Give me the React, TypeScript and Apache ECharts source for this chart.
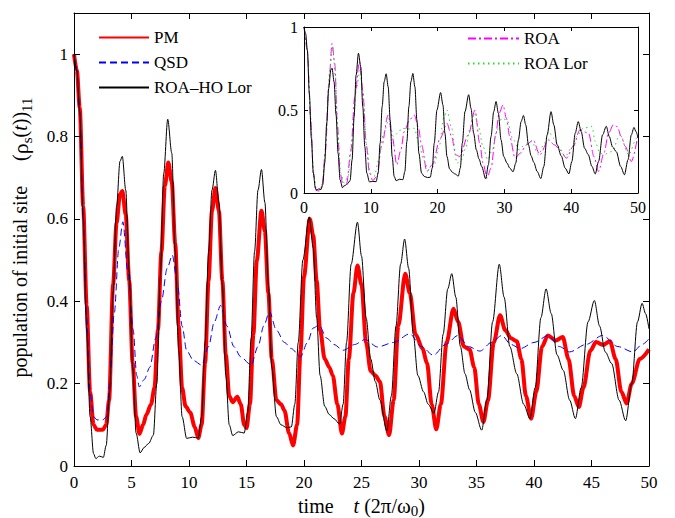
import React, { useEffect, useRef } from "react";
import * as echarts from "echarts";

// ---------- data ----------
const pmT = [0, 0.25, 0.5, 0.8, 1.1, 1.4, 1.7, 2.0, 2.5, 2.8, 3.05, 3.4, 3.7, 4.0, 4.2, 4.5, 4.8, 5.1, 5.4, 5.7, 6.0, 6.3, 6.7, 7.0, 7.3, 7.6, 7.9, 8.2, 8.5, 8.8, 9.1, 9.4, 9.7, 10.1, 10.5, 10.8, 11.1, 11.4, 11.7, 12.0, 12.3, 12.6, 12.9, 13.2, 13.5, 13.8, 14.2, 14.5, 14.8, 15.0, 15.3, 15.6, 15.9, 16.3, 16.6, 16.9, 17.2, 17.6, 18.0, 18.3, 18.7, 19.05, 19.4, 19.7, 20.0, 20.5, 20.8, 21.1, 21.4, 21.8, 22.2, 22.5, 22.9, 23.3, 23.6, 23.9, 24.3, 24.65, 25.0, 25.4, 25.8, 26.2, 26.6, 27.0, 27.4, 27.8, 28.2, 28.8, 29.2, 29.7, 30.3, 30.7, 31.1, 31.5, 31.9, 32.4, 33.0, 33.4, 33.9, 34.4, 34.8, 35.2, 35.6, 36.0, 36.5, 37.05, 37.5, 38.0, 38.5, 38.9, 39.3, 39.75, 40.2, 40.7, 41.2, 41.9, 42.5, 43.0, 43.5, 43.9, 44.3, 44.9, 45.4, 46.0, 46.6, 47.1, 47.6, 48.05, 48.5, 49.2, 50];
const pmV = [1.0, 0.96, 0.87, 0.63, 0.39, 0.18, 0.1, 0.088, 0.088, 0.1, 0.16, 0.44, 0.59, 0.66, 0.668, 0.61, 0.45, 0.25, 0.12, 0.078, 0.1, 0.125, 0.15, 0.19, 0.33, 0.52, 0.68, 0.737, 0.69, 0.54, 0.34, 0.19, 0.145, 0.13, 0.095, 0.068, 0.1, 0.25, 0.45, 0.62, 0.675, 0.62, 0.45, 0.27, 0.17, 0.155, 0.168, 0.15, 0.1, 0.092, 0.15, 0.32, 0.5, 0.62, 0.57, 0.42, 0.26, 0.16, 0.15, 0.135, 0.08, 0.05, 0.1, 0.28, 0.46, 0.6, 0.56, 0.45, 0.33, 0.26, 0.24, 0.22, 0.15, 0.079, 0.12, 0.26, 0.42, 0.487, 0.44, 0.3, 0.23, 0.22, 0.205, 0.12, 0.075, 0.16, 0.34, 0.467, 0.42, 0.32, 0.285, 0.25, 0.15, 0.089, 0.15, 0.3, 0.382, 0.35, 0.29, 0.283, 0.24, 0.15, 0.107, 0.16, 0.3, 0.366, 0.33, 0.31, 0.303, 0.26, 0.17, 0.115, 0.18, 0.29, 0.317, 0.305, 0.313, 0.26, 0.17, 0.143, 0.19, 0.28, 0.301, 0.294, 0.303, 0.26, 0.18, 0.152, 0.2, 0.26, 0.283];

const qsdT = [0, 0.25, 0.5, 0.8, 1.1, 1.4, 1.7, 2.0, 2.5, 2.85, 3.1, 3.5, 3.9, 4.25, 4.7, 5.15, 5.45, 5.68, 6.1, 6.6, 7.1, 7.6, 8.1, 8.55, 9.0, 9.4, 9.8, 10.4, 11.1, 11.7, 12.2, 12.75, 13.3, 13.9, 14.5, 15.4, 16.0, 16.5, 17.0, 17.6, 18.3, 18.9, 19.7, 20.3, 20.8, 21.3, 22.0, 22.6, 23.4, 24.4, 25.3, 26.4, 27.8, 29.2, 30.2, 31.25, 32.3, 33.4, 34.3, 35.3, 36.3, 37.2, 38.0, 38.8, 40.0, 41.25, 42.2, 43.1, 44.5, 45.97, 47.3, 48.6, 49.4, 50];
const qsdV = [1.0, 0.96, 0.86, 0.61, 0.36, 0.18, 0.12, 0.112, 0.112, 0.12, 0.2, 0.37, 0.53, 0.593, 0.466, 0.33, 0.22, 0.192, 0.21, 0.24, 0.31, 0.4, 0.48, 0.512, 0.44, 0.34, 0.28, 0.256, 0.245, 0.29, 0.35, 0.39, 0.34, 0.29, 0.265, 0.245, 0.29, 0.34, 0.375, 0.33, 0.3, 0.285, 0.265, 0.3, 0.335, 0.342, 0.31, 0.295, 0.281, 0.295, 0.307, 0.289, 0.3, 0.321, 0.29, 0.269, 0.295, 0.317, 0.29, 0.279, 0.3, 0.317, 0.295, 0.285, 0.3, 0.317, 0.29, 0.277, 0.295, 0.317, 0.29, 0.277, 0.295, 0.309];

const loreT = [0, 0.25, 0.5, 0.8, 1.1, 1.4, 1.7, 1.9, 2.2, 2.55, 2.8, 3.1, 3.4, 3.7, 4.0, 4.2, 4.5, 4.8, 5.1, 5.4, 5.75, 6.1, 6.5, 6.9, 7.2, 7.5, 7.8, 8.15, 8.5, 8.8, 9.1, 9.4, 9.8, 10.3, 10.8, 11.1, 11.4, 11.7, 12.0, 12.3, 12.6, 12.9, 13.2, 13.5, 13.8, 14.3, 14.8, 15.1, 15.4, 15.7, 16.0, 16.3, 16.6, 16.9, 17.2, 17.6, 18.0, 18.5, 18.9, 19.2, 19.5, 19.9, 20.45, 20.8, 21.1, 21.4, 21.8, 22.2, 22.6, 23.1, 23.4, 23.7, 24.1, 24.65, 25.0, 25.4, 25.8, 26.2, 26.6, 27.2, 27.6, 28.0, 28.4, 28.75, 29.1, 29.5, 29.9, 30.4, 30.8, 31.3, 31.7, 32.1, 32.5, 32.85, 33.2, 33.6, 34.0, 34.4, 34.9, 35.45, 35.9, 36.4, 36.98, 37.4, 37.9, 38.5, 39.1, 39.65, 40.1, 40.6, 41.05, 41.5, 42.0, 42.55, 43.1, 43.6, 44.1, 44.7, 45.25, 45.7, 46.2, 46.75, 47.4, 47.97, 48.5, 49.0, 49.4, 49.7, 50];
const loreV = [1.0, 0.96, 0.86, 0.6, 0.33, 0.12, 0.03, 0.018, 0.024, 0.021, 0.05, 0.18, 0.42, 0.63, 0.74, 0.752, 0.67, 0.47, 0.24, 0.08, 0.032, 0.045, 0.055, 0.075, 0.2, 0.46, 0.71, 0.842, 0.76, 0.52, 0.28, 0.12, 0.067, 0.07, 0.068, 0.12, 0.3, 0.52, 0.67, 0.718, 0.64, 0.44, 0.22, 0.1, 0.074, 0.083, 0.08, 0.13, 0.31, 0.52, 0.67, 0.72, 0.64, 0.44, 0.24, 0.12, 0.1, 0.093, 0.095, 0.15, 0.3, 0.5, 0.605, 0.53, 0.36, 0.22, 0.145, 0.125, 0.115, 0.102, 0.15, 0.3, 0.49, 0.592, 0.51, 0.36, 0.26, 0.205, 0.16, 0.085, 0.17, 0.34, 0.49, 0.551, 0.48, 0.32, 0.22, 0.18, 0.15, 0.128, 0.18, 0.32, 0.43, 0.467, 0.41, 0.29, 0.224, 0.185, 0.13, 0.087, 0.16, 0.35, 0.49, 0.41, 0.29, 0.224, 0.15, 0.115, 0.19, 0.36, 0.43, 0.37, 0.27, 0.232, 0.16, 0.115, 0.19, 0.35, 0.402, 0.34, 0.277, 0.249, 0.16, 0.11, 0.2, 0.35, 0.395, 0.37, 0.333];

const roaT = [0, 0.5, 1.0, 1.4, 1.8, 2.3, 2.7, 3.2, 3.7, 4.2, 4.6, 5.0, 5.4, 5.9, 6.4, 7.0, 7.6, 8.3, 8.8, 9.3, 9.8, 10.3, 10.9, 11.6, 12.6, 13.2, 13.9, 14.5, 15.0, 15.8, 16.5, 17.1, 17.6, 18.4, 19.2, 20.4, 21.4, 22.1, 22.7, 23.3, 24.6, 25.6, 26.3, 26.8, 27.4, 28.0, 28.7, 29.2, 29.8, 30.3, 30.8, 31.6, 32.4, 33.3, 34.3, 35.3, 36.6, 37.5, 38.3, 39.3, 40.3, 41.3, 42.6, 43.4, 44.1, 44.9, 45.6, 46.3, 46.9, 47.5, 48.1, 49.0, 50];
const roaV = [1.0, 0.86, 0.45, 0.12, 0.015, 0.012, 0.04, 0.25, 0.65, 0.9, 0.78, 0.42, 0.12, 0.04, 0.06, 0.25, 0.58, 0.79, 0.62, 0.3, 0.12, 0.075, 0.1, 0.28, 0.47, 0.34, 0.17, 0.26, 0.37, 0.44, 0.47, 0.4, 0.29, 0.13, 0.17, 0.33, 0.42, 0.34, 0.23, 0.22, 0.35, 0.5, 0.3, 0.18, 0.09, 0.15, 0.35, 0.48, 0.53, 0.45, 0.34, 0.21, 0.24, 0.29, 0.32, 0.23, 0.32, 0.29, 0.26, 0.21, 0.28, 0.38, 0.36, 0.22, 0.13, 0.24, 0.36, 0.41, 0.4, 0.34, 0.28, 0.19, 0.35];

const roaLorT = [0, 0.5, 1.0, 1.4, 1.8, 2.4, 2.8, 3.3, 3.8, 4.3, 4.7, 5.1, 5.5, 6.0, 6.6, 7.2, 7.8, 8.4, 8.9, 9.4, 9.9, 10.5, 11.2, 11.9, 12.7, 13.4, 14.0, 14.7, 15.5, 16.5, 17.2, 17.9, 18.6, 19.4, 20.2, 20.9, 21.4, 22.1, 22.9, 23.6, 24.2, 24.9, 25.5, 26.1, 26.8, 27.5, 28.2, 28.9, 29.6, 30.4, 31.2, 32.2, 33.0, 34.1, 35.1, 36.0, 36.6, 37.4, 38.1, 39.1, 40.0, 40.8, 41.8, 43.1, 43.6, 44.2, 44.8, 46.1, 47.3, 48.6, 49.8, 50];
const roaLorV = [1.0, 0.86, 0.45, 0.13, 0.03, 0.025, 0.06, 0.32, 0.72, 0.88, 0.7, 0.35, 0.12, 0.06, 0.1, 0.32, 0.62, 0.74, 0.55, 0.28, 0.12, 0.1, 0.2, 0.36, 0.44, 0.34, 0.36, 0.39, 0.385, 0.39, 0.3, 0.2, 0.14, 0.16, 0.27, 0.45, 0.5, 0.39, 0.18, 0.2, 0.27, 0.4, 0.48, 0.4, 0.28, 0.2, 0.26, 0.38, 0.45, 0.44, 0.33, 0.26, 0.29, 0.31, 0.23, 0.3, 0.37, 0.33, 0.28, 0.22, 0.27, 0.34, 0.39, 0.4, 0.31, 0.25, 0.23, 0.25, 0.35, 0.23, 0.33, 0.34];

const seriesNames = ["PM", "QSD", "ROA\u2013HO Lor", "ROA", "ROA Lor"];
const mainXTicks = { min: 0, max: 50, interval: 5 };
const mainYTicks = { min: 0, max: 1.1, interval: 0.2 };
const insetXTicks = { min: 0, max: 50, interval: 10 };
const insetYTicks = { min: 0, max: 1, interval: 0.5 };

const zip = (t: number[], v: number[]) => t.map((x, i) => [x, v[i]]);

const FONT = "'Liberation Serif', 'Times New Roman', serif";

export default function App() {
  const ref = useRef<HTMLDivElement>(null);
  useEffect(() => {
    if (!ref.current) return;
    const chart = echarts.init(ref.current, undefined, { renderer: "svg" });

    const axisCommon = {
      axisLine: { show: true, onZero: false, lineStyle: { color: "#000", width: 1 } },
      splitLine: { show: false },
    };
    const mkX = (grid: number, tk: any, pos: string, labels: boolean, fs: number, margin: number, tickLen: number, z: number, extra: any = {}) => ({
      type: "value",
      gridIndex: grid,
      position: pos,
      min: tk.min,
      max: tk.max,
      interval: tk.interval,
      z,
      ...axisCommon,
      axisTick: { show: true, inside: true, length: tickLen, lineStyle: { color: "#000" } },
      axisLabel: { show: labels, color: "#000", fontFamily: FONT, fontSize: fs, margin },
      ...extra,
    });
    const mkY = (grid: number, tk: any, pos: string, labels: boolean, fs: number, margin: number, tickLen: number, z: number, extra: any = {}) => ({
      type: "value",
      gridIndex: grid,
      position: pos,
      min: tk.min,
      max: tk.max,
      interval: tk.interval,
      z,
      ...axisCommon,
      axisTick: { show: true, inside: true, length: tickLen, lineStyle: { color: "#000" } },
      axisLabel: { show: labels, color: "#000", fontFamily: FONT, fontSize: fs, margin, showMaxLabel: tk.max === 1 ? true : false },
      ...extra,
    });

    const lineBase = {
      type: "line",
      symbol: "none",
      smooth: 0.3,
      smoothMonotone: "x",
      animation: false,
    };

    const richY = {
      a: { fontFamily: FONT, fontSize: 20, color: "#000", lineHeight: 28 },
      g: { fontFamily: FONT, fontSize: 22, color: "#000", lineHeight: 28 },
      i: { fontFamily: FONT, fontSize: 20, color: "#000", fontStyle: "italic", lineHeight: 28 },
      s: { fontFamily: FONT, fontSize: 15, color: "#000", lineHeight: 16, verticalAlign: "bottom" },
    };
    const richX = {
      a: { fontFamily: FONT, fontSize: 20, color: "#000", lineHeight: 25 },
      g: { fontFamily: FONT, fontSize: 21, color: "#000", lineHeight: 25 },
      i: { fontFamily: FONT, fontSize: 20, color: "#000", fontStyle: "italic", lineHeight: 25 },
      s: { fontFamily: FONT, fontSize: 15, color: "#000", lineHeight: 15, verticalAlign: "bottom" },
    };

    chart.setOption({
      animation: false,
      backgroundColor: "#fff",
      textStyle: { fontFamily: FONT },
      grid: [
        { left: 74, top: 13, right: 26, bottom: 52, show: false, z: 0, containLabel: false, outerBoundsMode: "none" },
        { left: 304, top: 27, width: 334, height: 166, show: true, backgroundColor: "#fff", borderWidth: 0, z: 5, containLabel: false, outerBoundsMode: "none" },
      ],
      xAxis: [
        mkX(0, mainXTicks, "bottom", true, 17, 8, 6, 3, {
          name: "{a|time    }{i|t}{a| (2}{g|\u03c0}{a|/}{g|\u03c9}{s|0}{a|)}",
          nameLocation: "middle",
          nameGap: 21,
          nameTextStyle: { color: "#000", fontFamily: FONT, fontSize: 20, rich: richX },
        }),
        mkX(0, mainXTicks, "top", false, 17, 7, 6, 3),
        mkX(1, insetXTicks, "bottom", true, 16, 6, 4, 8),
        mkX(1, insetXTicks, "top", false, 16, 6, 4, 8),
      ],
      yAxis: [
        mkY(0, mainYTicks, "left", true, 17, 6, 6, 3, {
          name: "{a|population of initial site     (}{g|\u03c1}{s|s}{a|(}{i|t}{a|))}{s|11}",
          nameLocation: "middle",
          nameRotate: 90,
          nameGap: 40,
          nameTextStyle: { color: "#000", fontFamily: FONT, fontSize: 20, rich: richY, padding: [0, 0, 0, 4] },
        }),
        mkY(0, mainYTicks, "right", false, 17, 6, 6, 3),
        mkY(1, insetYTicks, "left", true, 16, 6, 4, 8),
        mkY(1, insetYTicks, "right", false, 16, 6, 4, 8),
      ],
      legend: [
        {
          data: [seriesNames[0], seriesNames[1], seriesNames[2]],
          orient: "vertical",
          left: 98,
          top: 29,
          padding: 0,
          itemWidth: 50,
          itemHeight: 14,
          itemGap: 8,
          selectedMode: false,
          itemStyle: { opacity: 0 },
          textStyle: { fontFamily: FONT, fontSize: 17, color: "#000", lineHeight: 17 },
          z: 10,
        },
        {
          data: [seriesNames[3], seriesNames[4]],
          orient: "vertical",
          left: 467,
          top: 30,
          padding: 0,
          itemWidth: 51,
          itemHeight: 14,
          itemGap: 8,
          selectedMode: false,
          itemStyle: { opacity: 0 },
          textStyle: { fontFamily: FONT, fontSize: 17, color: "#000", lineHeight: 17 },
          z: 10,
        },
      ],
      series: [
        {
          ...lineBase,
          name: seriesNames[0],
          xAxisIndex: 0,
          yAxisIndex: 0,
          z: 2,
          data: zip(pmT, pmV),
          itemStyle: { color: "#ff0000" },
          lineStyle: { color: "#ff0000", width: 4 },
        },
        {
          ...lineBase,
          name: seriesNames[1],
          xAxisIndex: 0,
          yAxisIndex: 0,
          z: 2,
          data: zip(qsdT, qsdV),
          itemStyle: { color: "#0000ff" },
          lineStyle: { color: "#0000ff", width: 1, type: [7, 4] },
        },
        {
          ...lineBase,
          name: seriesNames[2],
          xAxisIndex: 0,
          yAxisIndex: 0,
          z: 2,
          data: zip(loreT, loreV),
          itemStyle: { color: "#000" },
          lineStyle: { color: "#000", width: 1 },
        },
        {
          ...lineBase,
          name: seriesNames[3],
          xAxisIndex: 2,
          yAxisIndex: 2,
          z: 6,
          data: zip(roaT, roaV),
          itemStyle: { color: "#ff00ff" },
          lineStyle: { color: "#ff00ff", width: 1, type: [8, 3, 2, 3] },
        },
        {
          ...lineBase,
          name: seriesNames[4],
          xAxisIndex: 2,
          yAxisIndex: 2,
          z: 6,
          data: zip(roaLorT, roaLorV),
          itemStyle: { color: "#22dd22" },
          lineStyle: { color: "#22dd22", width: 1, type: [1.5, 3.5] },
        },
        {
          ...lineBase,
          name: "ROA\u2013HO Lor inset",
          xAxisIndex: 2,
          yAxisIndex: 2,
          z: 6,
          data: zip(loreT, loreV),
          itemStyle: { color: "#000" },
          lineStyle: { color: "#000", width: 1 },
        },
      ],
    });
    return () => chart.dispose();
  }, []);
  return <div ref={ref} style={{ width: 675, height: 518, position: "absolute", left: 0, top: 0 }} />;
}
